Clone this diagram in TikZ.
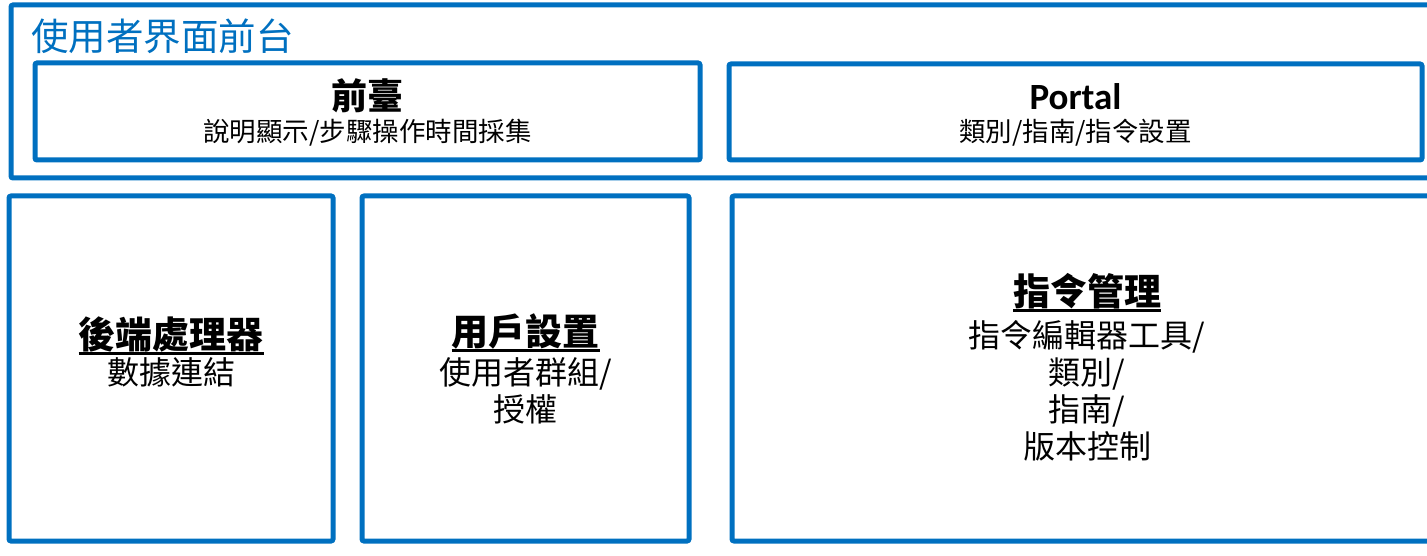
\documentclass[tikz,border=0pt]{standalone}
\usepackage{fontspec}
\setmainfont{Noto Sans CJK TC}
\newfontfamily\latinfont{Carlito}
\definecolor{mblue}{HTML}{0070C0}
\newcommand{\ulhead}[1]{\vtop{\hbox{#1}\kern0.5pt\hrule height 3pt}}
\tikzset{
  box/.style={draw=mblue, line width=5pt, rounded corners=2pt, fill=none, inner sep=0pt},
  head/.style={font=\fontsize{37}{42}\selectfont\bfseries, inner sep=0pt},
  subsmall/.style={font=\fontsize{26.5}{32}\selectfont, inner sep=0pt},
  sublarge/.style={font=\fontsize{32}{37}\selectfont, inner sep=0pt, align=center},
}
\begin{document}
\begin{tikzpicture}[x=1pt,y=-1pt]
\useasboundingbox (0,0) rectangle (1427,556);
\clip (0,0) rectangle (1427,556);
% outer frame
\node[box, minimum width=1439pt, minimum height=173pt] (outer) at (730.5,91.5) {};
\node[anchor=west, inner sep=0pt, text=mblue, font=\fontsize{37.5}{42}\selectfont] (title) at (31,36) {使用者界面前台};
% top boxes
\node[box, minimum width=665pt, minimum height=97pt] (front) at (367.5,111.5) {};
\node[head, font=\fontsize{36}{42}\selectfont\bfseries] (fronth) at (367.5,96) {前臺};
\node[subsmall] (fronts) at (367.5,133) {說明顯示/步驟操作時間採集};
\node[box, minimum width=693pt, minimum height=96pt] (portal) at (1075.5,112) {};
\node[head, font=\fontsize{37}{42}\selectfont\bfseries\latinfont] (portalh) at (1075.5,97) {Portal};
\node[subsmall] (portals) at (1075.5,133) {類別/指南/指令設置};
% lower boxes
\node[box, minimum width=324pt, minimum height=345pt] (back) at (171,368.5) {};
\node[head, anchor=base] (backh) at (171,348) {\ulhead{後端處理器}};
\node[sublarge, anchor=north] (backs) at (171,357) {數據連結};
\node[box, minimum width=327pt, minimum height=345pt] (user) at (525.5,368.5) {};
\node[head, anchor=base] (userh) at (525.5,345) {\ulhead{用戶設置}};
\node[sublarge, anchor=north] (users) at (525.5,357) {使用者群組/\\授權};
\node[box, minimum width=718pt, minimum height=345pt] (cmd) at (1091,368.5) {};
\node[head, anchor=base] (cmdh) at (1087,305) {\ulhead{指令管理}};
\node[sublarge, anchor=north] (cmds) at (1087,320) {指令編輯器工具/\\類別/\\指南/\\版本控制};
\end{tikzpicture}
\end{document}
